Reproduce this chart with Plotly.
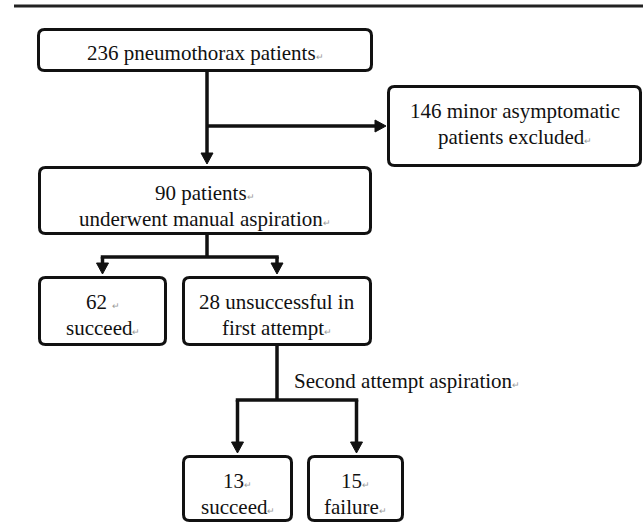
import plotly.graph_objects as go

node_ids = ["all", "excluded", "aspirated", "first_ok", "first_fail", "second_ok", "second_fail"]
node_counts = [236, 146, 90, 62, 28, 13, 15]
node_lines = [
    ["{} pneumothorax patients"],
    ["{} minor asymptomatic", "patients excluded"],
    ["{} patients", "underwent manual aspiration"],
    ["{} ", "succeed"],
    ["{} unsuccessful in", "first attempt"],
    ["{}", "succeed"],
    ["{}", "failure"],
]
# lines that end with a Word paragraph mark in the source image
line_marks = [
    [True],
    [False, True],
    [True, True],
    [True, True],
    [False, True],
    [True, True],
    [True, True],
]
edge_label = "Second attempt aspiration"

# ---- layout geometry (pixels) ----
W, H = 643, 525
boxes = {
    "all":         (37, 28, 373, 72),
    "excluded":    (387, 85, 642, 167),
    "aspirated":   (38, 166, 372, 235),
    "first_ok":    (38, 276, 167, 346),
    "first_fail":  (182, 276, 372, 346),
    "second_ok":   (182, 455, 293, 522),
    "second_fail": (307, 455, 404, 522),
}
text_dy = {"all": 3, "excluded": -2, "aspirated": 5, "first_ok": 4,
           "first_fail": 4, "second_ok": 5, "second_fail": 5}
LINE_GAP = 26
FONT = "Liberation Serif, Times New Roman, serif"
INK = "#111111"
BW = 3      # box border width
LW = 3.5    # connector width
AL, AH = 11, 6  # arrow length, half width

def rrect(x0, y0, x1, y1, r=6):
    i = BW / 2
    x0, y0, x1, y1 = x0 + i, y0 + i, x1 - i, y1 - i
    return (f"M {x0+r},{y0} L {x1-r},{y0} Q {x1},{y0} {x1},{y0+r} "
            f"L {x1},{y1-r} Q {x1},{y1} {x1-r},{y1} L {x0+r},{y1} "
            f"Q {x0},{y1} {x0},{y1-r} L {x0},{y0+r} Q {x0},{y0} {x0+r},{y0} Z")

def cx(b):
    return (boxes[b][0] + boxes[b][2]) / 2

shapes, annotations = [], []

# top rule
shapes.append(dict(type="line", x0=14, x1=W, y0=6, y1=6, line=dict(color="#222", width=3)))

# boxes and texts
mark = "<span style='font-size:9px;color:#999'>\u21b5</span>"
for nid, cnt, lines, marks in zip(node_ids, node_counts, node_lines, line_marks):
    x0, y0, x1, y1 = boxes[nid]
    shapes.append(dict(type="path", path=rrect(x0, y0, x1, y1),
                       line=dict(color=INK, width=BW), fillcolor="white", layer="above"))
    n = len(lines)
    yc = (y0 + y1) / 2 + text_dy[nid]
    for k, (ln, mk) in enumerate(zip(lines, marks)):
        txt = ln.format(cnt) if "{}" in ln else ln
        yk = yc + (k - (n - 1) / 2) * LINE_GAP
        annotations.append(dict(x=(x0 + x1) / 2, y=yk, xref="x", yref="y",
                                text=txt + (mark if mk else ""),
                                showarrow=False, xanchor="center", yanchor="middle",
                                font=dict(family=FONT, size=21, color=INK)))

def seg(xa, ya, xb, yb):
    shapes.append(dict(type="line", x0=xa, y0=ya, x1=xb, y1=yb, line=dict(color=INK, width=LW)))

def arrow_down(x, ya, yt):
    seg(x, ya, x, yt - AL + 1)
    shapes.append(dict(type="path", path=f"M {x-AH},{yt-AL} L {x+AH},{yt-AL} L {x},{yt} Z",
                       fillcolor=INK, line=dict(color=INK, width=1)))

def arrow_right(xa, y, xt):
    seg(xa, y, xt - AL + 1, y)
    shapes.append(dict(type="path", path=f"M {xt-AL},{y-AH} L {xt-AL},{y+AH} L {xt},{y} Z",
                       fillcolor=INK, line=dict(color=INK, width=1)))

# all -> aspirated, branch -> excluded
xm = 207
arrow_down(xm, boxes["all"][3], boxes["aspirated"][1] - 2)
branch_y = 126
arrow_right(xm, branch_y, boxes["excluded"][0] - 1)

# aspirated -> first_ok / first_fail
split1 = 257
seg(xm, boxes["aspirated"][3], xm, split1)
xa, xb = cx("first_ok"), cx("first_fail")
seg(xa - LW / 2, split1, xb + LW / 2, split1)
arrow_down(xa, split1, boxes["first_ok"][1] - 2)
arrow_down(xb, split1, boxes["first_fail"][1] - 2)

# first_fail -> second_ok / second_fail
split2 = 400
seg(xb, boxes["first_fail"][3], xb, split2)
xc, xd = cx("second_ok"), cx("second_fail") + 1
seg(xc - LW / 2, split2, xd + LW / 2, split2)
arrow_down(xc, split2, boxes["second_ok"][1] - 2)
arrow_down(xd, split2, boxes["second_fail"][1] - 2)

annotations.append(dict(x=292, y=381, xref="x", yref="y", text=edge_label + mark,
                        showarrow=False, xanchor="left", yanchor="middle",
                        font=dict(family=FONT, size=21, color=INK)))

fig = go.Figure()
fig.update_layout(
    width=W, height=H, margin=dict(l=0, r=0, t=0, b=0),
    paper_bgcolor="white", plot_bgcolor="white",
    xaxis=dict(range=[0, W], visible=False, fixedrange=True),
    yaxis=dict(range=[H, 0], visible=False, fixedrange=True),
    shapes=shapes, annotations=annotations, showlegend=False,
)
fig.write_html("out.html", config={"displayModeBar": False},
               post_script="document.body.style.margin='0';document.body.style.overflow='hidden';")
